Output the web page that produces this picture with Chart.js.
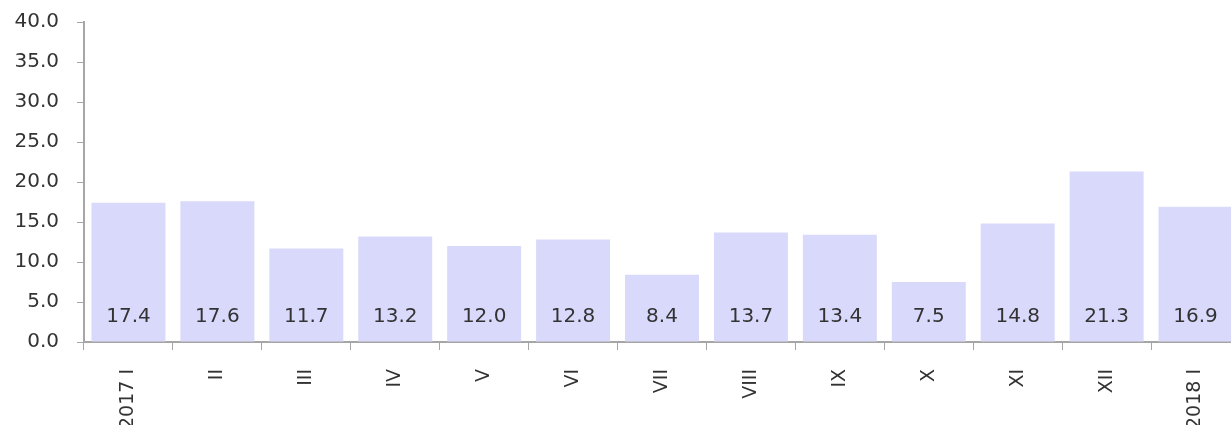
<!DOCTYPE html>
<html>
<head>
<meta charset="utf-8">
<script src="https://cdn.jsdelivr.net/npm/chart.js@4/dist/chart.umd.min.js"></script>
<style>
html,body{margin:0;padding:0;background:#fff;overflow:hidden;}
#wrap{width:1240px;height:425px;position:relative;}
</style>
</head>
<body>
<div id="wrap"><canvas id="c"></canvas></div>
<script>
const categories = ["2017 I","II","III","IV","V","VI","VII","VIII","IX","X","XI","XII","2018 I"];
const values = [17.4,17.6,11.7,13.2,12.0,12.8,8.4,13.7,13.4,7.5,14.8,21.3,16.9];
const yMin = 0, yMax = 40, yStep = 5;

const FONT = "'DejaVu Sans', sans-serif";
const TEXT = "#333333";
const AXIS = "#a6a6a6";

const bottomLabels = {
  id: 'bottomLabels',
  afterDatasetsDraw(chart) {
    const ctx = chart.ctx;
    const meta = chart.getDatasetMeta(0);
    const y = chart.scales.y.getPixelForValue(0) - 25;
    ctx.save();
    ctx.font = "20px " + FONT;
    ctx.fillStyle = TEXT;
    ctx.textAlign = 'center';
    ctx.textBaseline = 'middle';
    meta.data.forEach((bar, i) => {
      ctx.fillText(values[i].toFixed(1), bar.x, y);
    });
    ctx.restore();
  }
};

new Chart(document.getElementById('c'), {
  type: 'bar',
  data: {
    labels: categories,
    datasets: [{
      data: values,
      backgroundColor: '#d9d9fc',
      borderWidth: 0,
      barPercentage: 0.832,
      categoryPercentage: 1.0
    }]
  },
  options: {
    responsive: true,
    maintainAspectRatio: false,
    animation: false,
    layout: { padding: { top: 22, right: 0, left: 0, bottom: 0 } },
    plugins: { legend: { display: false }, tooltip: { enabled: false } },
    scales: {
      x: {
        grid: { display: true, drawOnChartArea: false, offset: true, color: AXIS, tickLength: 8, lineWidth: 1 },
        border: { display: true, color: AXIS, width: 2 },
        ticks: { minRotation: 90, maxRotation: 90, autoSkip: false, color: TEXT, font: { family: FONT, size: 19 }, padding: 19 },
        afterFit(s) { s.height = 83; s.paddingLeft = 0; s.paddingRight = 0; }
      },
      y: {
        min: yMin, max: yMax,
        grid: { display: true, drawOnChartArea: false, color: AXIS, tickLength: 7, lineWidth: 1 },
        border: { display: true, color: AXIS, width: 2 },
        ticks: { stepSize: yStep, color: TEXT, font: { family: FONT, size: 20 }, padding: 18,
          callback: v => Number(v).toFixed(1) },
        afterFit(s) { s.width = 84; s.paddingTop = 0; s.paddingBottom = 0; }
      }
    }
  },
  plugins: [bottomLabels]
});
</script>
</body>
</html>
